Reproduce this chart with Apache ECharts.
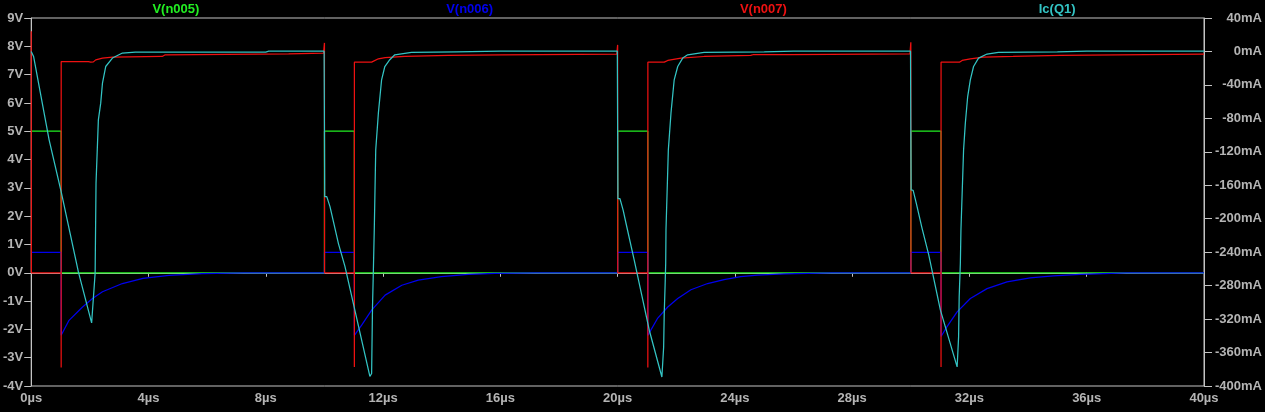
<!DOCTYPE html>
<html>
<head>
<meta charset="utf-8">
<script src="https://cdn.jsdelivr.net/npm/echarts@6/dist/echarts.min.js"></script>
<style>
html,body{margin:0;padding:0;background:#000;}
#c{width:1265px;height:412px;}
</style>
</head>
<body>
<div id="c"></div>
<script>
// Series names (legend titles)
const seriesNames = ['V(n005)', 'V(n006)', 'V(n007)', 'Ic(Q1)'];
const seriesColors = ['#22ee22', '#0000ee', '#ee1111', '#33c4c4'];

// Axis ranges / ticks
const timeTicks = { min: 0, max: 40, interval: 4, unit: 'µs' };
const voltTicks = { min: -4, max: 9, interval: 1, unit: 'V' };
const currTicks = { min: -400, max: 40, interval: 40, unit: 'mA' };

// V(n005) [µs, V]
const vn005 = [
  [0, 5], [1.02, 5], [1.021, 0], [10, 0], [10.001, 5], [11.02, 5], [11.021, 0],
  [20, 0], [20.001, 5], [21.03, 5], [21.031, 0], [30, 0], [30.001, 5], [31.03, 5], [31.031, 0], [40, 0]
];

// V(n006) [µs, V]
const vn006 = [
  [0, 0.72], [1.02, 0.72], [1.021, -2.21], [1.29, -1.68], [1.75, -1.21], [2.09, -0.91], [2.43, -0.67],
  [3.11, -0.38], [3.81, -0.20], [4.70, -0.09], [5.83, -0.03], [7.25, 0], [10, 0],
  [10.001, 0.72], [11.02, 0.72], [11.021, -2.21], [11.27, -1.85], [11.61, -1.32], [12.07, -0.79],
  [12.64, -0.44], [13.20, -0.26], [13.99, -0.14], [14.90, -0.06], [15.81, -0.02], [17.2, 0], [20, 0],
  [20.001, 0.72], [21.03, 0.72], [21.031, -2.21], [21.37, -1.6], [21.71, -1.21], [22.05, -0.91],
  [22.5, -0.6], [23.07, -0.38], [23.63, -0.24], [24.2, -0.14], [24.77, -0.08], [25.68, -0.04], [27.3, 0], [30, 0],
  [30.001, 0.72], [31.03, 0.72], [31.031, -2.25], [31.23, -1.91], [31.58, -1.38], [32.03, -0.91],
  [32.60, -0.56], [33.28, -0.32], [34.07, -0.18], [34.86, -0.11], [35.77, -0.06], [37.36, 0], [40, 0]
];

// V(n007) [µs, V]
const vn007 = [
  [0, 8.53], [0.005, 0], [1.02, 0], [1.021, -3.35], [1.022, 7.46], [1.95, 7.46], [2.03, 7.44], [2.12, 7.45],
  [2.2, 7.52], [2.43, 7.58], [2.77, 7.62], [4.47, 7.64], [4.57, 7.70], [8.78, 7.73], [9.97, 7.76],
  [10, 7.76], [10.001, 8.12], [10.005, 0], [11.02, 0], [11.021, -3.33], [11.022, 7.44], [11.61, 7.44],
  [11.67, 7.5], [11.84, 7.56], [12.07, 7.6], [12.75, 7.64], [14.22, 7.68], [16.04, 7.70], [19.97, 7.72],
  [20, 7.72], [20.001, 8.05], [20.005, 0], [21.03, 0], [21.031, -3.35], [21.032, 7.44], [21.59, 7.44],
  [21.71, 7.5], [22.16, 7.58], [22.95, 7.64], [24.54, 7.68], [24.64, 7.71], [25.9, 7.71], [29.97, 7.73],
  [30, 7.73], [30.001, 8.14], [30.005, 0], [31.03, 0], [31.031, -3.33], [31.032, 7.44], [31.66, 7.44],
  [31.75, 7.5], [32.03, 7.56], [32.48, 7.62], [33.49, 7.64], [35.09, 7.68], [35.15, 7.71], [40, 7.72]
];

// Ic(Q1) [µs, mA]
const icq1 = [
  [0, 0], [0.08, -6], [0.61, -105.7], [1.02, -167.7], [1.61, -263.8], [2.06, -324.6], [2.18, -264.7],
  [2.21, -157.6], [2.29, -81.8], [2.37, -61.8], [2.43, -37.8], [2.54, -18], [2.77, -7.9], [3.11, -1.9],
  [3.55, -0.7], [8.0, -0.7], [8.1, 0.3], [9.99, 0.3],
  [10.01, -173.6], [10.08, -173.6], [10.19, -185.6], [10.48, -230], [10.70, -257], [11.04, -309.6],
  [11.55, -388.4], [11.61, -385], [11.64, -305.4], [11.67, -261.4], [11.70, -213.5], [11.75, -117.7],
  [11.84, -73.8], [11.95, -33.9], [12.06, -18], [12.23, -9.9], [12.40, -4], [12.97, -1.2], [14.5, -0.5],
  [16.0, 0.3], [19.99, 0.3],
  [20.01, -176], [20.08, -176], [20.19, -190], [20.29, -206], [20.57, -250], [21.08, -333.3], [21.51, -389.2],
  [21.57, -353.3], [21.59, -313.3], [21.62, -279.4], [21.64, -253.4], [21.65, -213.5], [21.73, -117.7],
  [21.82, -73.8], [21.93, -33.9], [22.05, -18], [22.22, -7.9], [22.39, -4], [22.95, -1.2], [25, -0.5],
  [26, 0.3], [29.99, 0.3],
  [30.01, -165.6], [30.08, -166], [30.19, -182], [30.38, -211], [30.61, -243], [31.01, -309.3], [31.58, -377.2],
  [31.63, -341.3], [31.65, -293.4], [31.69, -253.4], [31.71, -213.5], [31.80, -117.7], [31.86, -85.7],
  [31.94, -53.9], [32.03, -33.9], [32.14, -18], [32.31, -7.9], [32.60, -3.1], [32.99, -1.2], [35, -0.5],
  [36, 0.3], [40, 0.3]
];

const GRID = { left: 29, right: 61, top: 18, bottom: 26 };
const W = 1265;
const axisGray = '#c4c4c4';
const labelGray = '#b4b4b4';
const font = { fontFamily: 'Liberation Sans', fontWeight: 'bold', fontSize: 13 };

const chart = echarts.init(document.getElementById('c'), null, { renderer: 'canvas' });

const plotW = W - GRID.left - GRID.right;
const titleGraphics = seriesNames.map((n, i) => ({
  type: 'text',
  x: GRID.left + plotW * (i + 0.5) / seriesNames.length,
  y: 9,
  style: {
    text: n, fill: seriesColors[i], textAlign: 'center', textVerticalAlign: 'middle',
    font: 'bold 13px "Liberation Sans"'
  },
  silent: true
}));

const dataSets = [vn005, vn006, vn007, icq1];

chart.setOption({
  backgroundColor: '#000',
  animation: false,
  grid: { left: GRID.left, right: GRID.right, top: GRID.top, bottom: GRID.bottom,
          show: true, borderColor: axisGray, borderWidth: 1 },
  graphic: titleGraphics,
  xAxis: {
    type: 'value', min: timeTicks.min, max: timeTicks.max, interval: timeTicks.interval,
    axisLine: { show: true, lineStyle: { color: axisGray, width: 1 } },
    axisTick: { show: true, length: 4, lineStyle: { color: axisGray } },
    splitLine: { show: false },
    axisLabel: { color: labelGray, margin: 6, ...font, showMinLabel: true, showMaxLabel: true,
                 formatter: v => v + timeTicks.unit }
  },
  yAxis: [
    {
      type: 'value', position: 'left', min: voltTicks.min, max: voltTicks.max, interval: voltTicks.interval,
      axisLine: { show: true, lineStyle: { color: axisGray, width: 1 } },
      axisTick: { show: true, length: 7, lineStyle: { color: axisGray } },
      splitLine: { show: false },
      axisLabel: { color: labelGray, margin: 8, ...font, showMinLabel: true, showMaxLabel: true,
                   formatter: v => v + voltTicks.unit }
    },
    {
      type: 'value', position: 'right', min: currTicks.min, max: currTicks.max, interval: currTicks.interval,
      alignTicks: false,
      axisLine: { show: true, lineStyle: { color: axisGray, width: 1 } },
      axisTick: { show: true, length: 8, lineStyle: { color: axisGray } },
      splitLine: { show: false },
      axisLabel: { color: labelGray, margin: 58, align: 'right', ...font, showMinLabel: true, showMaxLabel: true,
                   formatter: v => v + currTicks.unit }
    }
  ],
  series: dataSets.map((d, i) => ({
    name: seriesNames[i],
    type: 'line',
    yAxisIndex: i === 3 ? 1 : 0,
    data: d,
    showSymbol: false,
    symbol: 'none',
    clip: true,
    lineStyle: { color: seriesColors[i], width: 1.25 },
    itemStyle: { color: seriesColors[i] }
  }))
});
</script>
</body>
</html>
